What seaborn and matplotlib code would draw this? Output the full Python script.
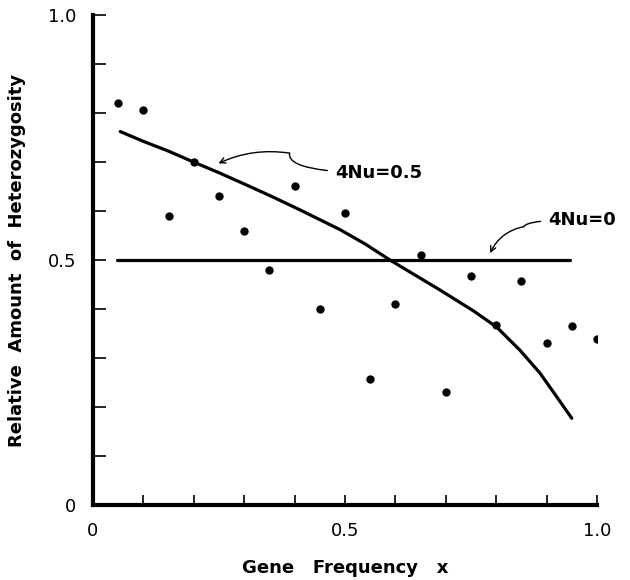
import matplotlib
matplotlib.use("Agg")
import matplotlib.pyplot as plt
import seaborn as sns
import pandas as pd

freq = [0.05, 0.10, 0.15, 0.20, 0.25, 0.30, 0.35, 0.40, 0.45, 0.50,
        0.55, 0.60, 0.65, 0.70, 0.75, 0.80, 0.85, 0.90, 0.95, 1.00]
het = [0.82, 0.806, 0.59, 0.70, 0.63, 0.56, 0.48, 0.65, 0.40, 0.595,
       0.257, 0.41, 0.51, 0.23, 0.467, 0.368, 0.458, 0.331, 0.365, 0.338]

# theoretical curve 4Nu=0.5
curve_x = [0.054, 0.10, 0.15, 0.199, 0.25, 0.311, 0.36, 0.411, 0.49, 0.541,
           0.589, 0.688, 0.755, 0.801, 0.847, 0.887, 0.92, 0.95]
curve_y = [0.762, 0.742, 0.722, 0.70, 0.678, 0.650, 0.627, 0.602, 0.562, 0.532,
           0.50, 0.439, 0.396, 0.363, 0.316, 0.269, 0.221, 0.177]

# 4Nu=0 line
flat_x = [0.047, 0.946]
flat_y = [0.5, 0.5]

sns.set_style("ticks")
plt.rcParams['font.family'] = ['DejaVu Sans']
plt.rcParams['text.color'] = 'black'
plt.rcParams['axes.labelcolor'] = 'black'
plt.rcParams['xtick.color'] = 'black'
plt.rcParams['ytick.color'] = 'black'
plt.rcParams['axes.edgecolor'] = 'black'

fig = plt.figure(figsize=(6.3, 5.8), dpi=100)
ax = fig.add_axes([0.1476, 0.1293, 0.80, 0.845])

pts = pd.DataFrame({"x": freq, "y": het})
sns.scatterplot(data=pts, x="x", y="y", ax=ax, color="black", s=36,
                edgecolor="black", linewidth=0, zorder=3)
sns.lineplot(x=curve_x, y=curve_y, ax=ax, color="black", lw=2.3, sort=False,
             solid_joinstyle="round")
sns.lineplot(x=flat_x, y=flat_y, ax=ax, color="black", lw=2.3, sort=False)

ax.set_xlim(0, 1.0)
ax.set_ylim(0, 1.0)
ax.set_xticks([0, 0.5, 1.0])
ax.set_xticklabels(["0", "0.5", "1.0"])
ax.set_yticks([0, 0.5, 1.0])
ax.set_yticklabels(["0", "0.5", "1.0"])
ax.set_xticks([i / 10 for i in range(11)], minor=True)
ax.set_yticks([i / 10 for i in range(11)], minor=True)
ax.tick_params(axis="x", which="both", direction="in", length=7, width=1.2,
               labelsize=13, pad=12)
ax.tick_params(axis="y", which="both", direction="in", length=9, width=1.2,
               labelsize=13, pad=12)

for side in ["top", "right"]:
    ax.spines[side].set_visible(False)
for side in ["left", "bottom"]:
    ax.spines[side].set_linewidth(3)

ax.set_xlabel("Gene   Frequency   x", fontsize=13, fontweight="bold", labelpad=14)
ax.set_ylabel("Relative  Amount  of  Heterozygosity", fontsize=13,
              fontweight="bold", labelpad=16)

# label arrows with a small squiggle, as in the original
ax.annotate("", xy=(0.249, 0.697), xytext=(0.39, 0.718),
            arrowprops=dict(arrowstyle="->", color="black", lw=1,
                            connectionstyle="arc3,rad=0.15",
                            shrinkA=0, shrinkB=0))
ax.annotate("4Nu=0.5", xy=(0.39, 0.718), xytext=(0.48, 0.678),
            fontsize=13, fontweight="bold", va="center",
            arrowprops=dict(arrowstyle="-", color="black", lw=1,
                            connectionstyle="angle3,angleA=0,angleB=80",
                            shrinkA=3, shrinkB=0))
ax.annotate("", xy=(0.788, 0.514), xytext=(0.855, 0.568),
            arrowprops=dict(arrowstyle="->", color="black", lw=1,
                            connectionstyle="arc3,rad=0.25",
                            shrinkA=0, shrinkB=0))
ax.annotate("4Nu=0", xy=(0.855, 0.568), xytext=(0.903, 0.582),
            fontsize=13, fontweight="bold", va="center",
            arrowprops=dict(arrowstyle="-", color="black", lw=1,
                            connectionstyle="angle3,angleA=0,angleB=70",
                            shrinkA=3, shrinkB=0))

fig.savefig("out.png", dpi=100)
